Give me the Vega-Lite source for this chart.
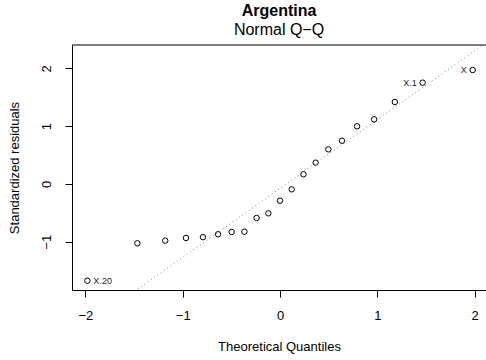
{
  "$schema": "https://vega.github.io/schema/vega-lite/v6.json",
  "autosize": "none",
  "width": 414,
  "height": 245,
  "padding": {"left": 72, "top": 45, "right": 0, "bottom": 70},
  "background": "white",
  "config": {
    "view": {"stroke": null},
    "font": "Liberation Sans",
    "axis": {
      "grid": false,
      "domainColor": "black",
      "domainWidth": 1,
      "tickColor": "black",
      "tickSize": 7,
      "tickWidth": 1,
      "labelColor": "black",
      "labelFont": "Liberation Sans",
      "labelFontSize": 13,
      "titleFont": "Liberation Sans",
      "titleFontSize": 13,
      "titleFontWeight": "normal",
      "titleColor": "black"
    }
  },
  "title": {
    "text": "Argentina",
    "subtitle": "Normal Q−Q",
    "anchor": "middle",
    "font": "Liberation Sans",
    "fontSize": 16,
    "fontWeight": "bold",
    "color": "black",
    "subtitleFont": "Liberation Sans",
    "subtitleFontSize": 16,
    "subtitleColor": "black",
    "subtitlePadding": 3,
    "offset": 7
  },
  "datasets": {
    "pts": [
      {"x": -1.980, "y": -1.673, "label": "X.20"},
      {"x": -1.466, "y": -1.026, "label": ""},
      {"x": -1.180, "y": -0.980, "label": ""},
      {"x": -0.967, "y": -0.934, "label": ""},
      {"x": -0.792, "y": -0.920, "label": ""},
      {"x": -0.637, "y": -0.870, "label": ""},
      {"x": -0.497, "y": -0.830, "label": ""},
      {"x": -0.366, "y": -0.825, "label": ""},
      {"x": -0.241, "y": -0.588, "label": ""},
      {"x": -0.120, "y": -0.507, "label": ""},
      {"x": 0.000, "y": -0.289, "label": ""},
      {"x": 0.120, "y": -0.092, "label": ""},
      {"x": 0.241, "y": 0.168, "label": ""},
      {"x": 0.366, "y": 0.369, "label": ""},
      {"x": 0.497, "y": 0.600, "label": ""},
      {"x": 0.637, "y": 0.749, "label": ""},
      {"x": 0.792, "y": 0.998, "label": ""},
      {"x": 0.967, "y": 1.119, "label": ""},
      {"x": 1.180, "y": 1.419, "label": ""},
      {"x": 1.466, "y": 1.753, "label": "X.1"},
      {"x": 1.980, "y": 1.972, "label": "X"}
    ],
    "qqline": [
      {"x": -2.2, "y": -2.697},
      {"x": 2.2, "y": 2.543}
    ]
  },
  "layer": [
    {
      "data": {"name": "qqline"},
      "mark": {"type": "line", "clip": true, "color": "#7f7f7f", "strokeWidth": 1, "strokeDash": [1, 3]},
      "encoding": {
        "x": {"field": "x", "type": "quantitative", "scale": {"domain": [-2.138, 2.117], "nice": false, "zero": false},
          "axis": {"values": [-2, -1, 0, 1, 2], "title": "Theoretical Quantiles", "labelPadding": 12, "titlePadding": 18, "format": "d", "labelExpr": "replace(datum.label, '-', '−')"}},
        "y": {"field": "y", "type": "quantitative", "scale": {"domain": [-1.834, 2.405], "nice": false, "zero": false},
          "axis": {"values": [-1, 0, 1, 2], "title": "Standardized residuals", "labelAngle": -90, "labelPadding": 12, "titlePadding": 19, "format": "d", "labelExpr": "replace(datum.label, '-', '−')"}}
      }
    },
    {
      "data": {"name": "pts"},
      "mark": {"type": "point", "shape": "circle", "filled": false, "color": "black", "size": 30, "strokeWidth": 1, "opacity": 1},
      "encoding": {
        "x": {"field": "x", "type": "quantitative"},
        "y": {"field": "y", "type": "quantitative"}
      }
    },
    {
      "data": {"name": "pts"},
      "transform": [{"filter": "datum.label == 'X.20'"}],
      "mark": {"type": "text", "align": "left", "baseline": "middle", "dx": 6, "fontSize": 9, "color": "#222222"},
      "encoding": {
        "x": {"field": "x", "type": "quantitative"},
        "y": {"field": "y", "type": "quantitative"},
        "text": {"field": "label"}
      }
    },
    {
      "data": {"name": "pts"},
      "transform": [{"filter": "datum.label == 'X.1' || datum.label == 'X'"}],
      "mark": {"type": "text", "align": "right", "baseline": "middle", "dx": -6, "fontSize": 9, "color": "#222222"},
      "encoding": {
        "x": {"field": "x", "type": "quantitative"},
        "y": {"field": "y", "type": "quantitative"},
        "text": {"field": "label"}
      }
    },
    {
      "data": {"values": [{}]},
      "mark": {"type": "rule", "color": "black", "strokeWidth": 1},
      "encoding": {
        "y": {"datum": 2.405, "type": "quantitative"}
      }
    }
  ]
}
